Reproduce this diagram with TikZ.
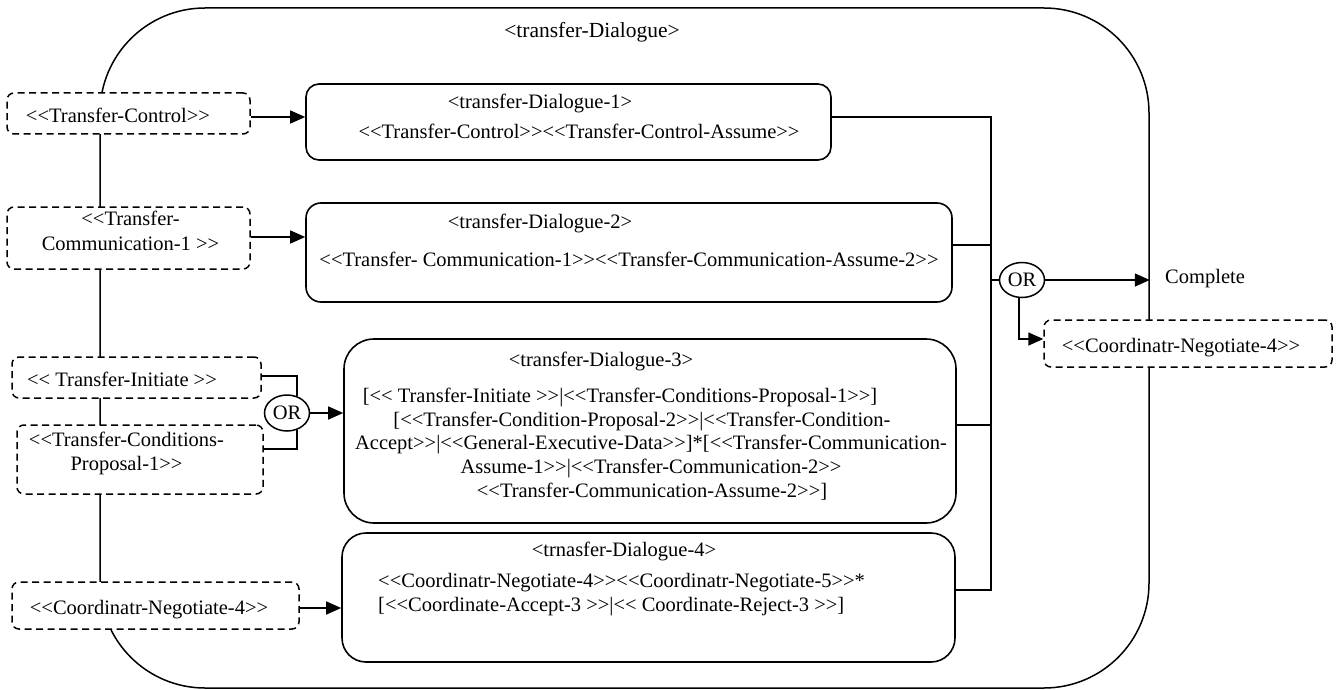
\documentclass[tikz,border=0pt]{standalone}
\usepackage{fontspec}
\setmainfont{Liberation Serif}
\usetikzlibrary{arrows.meta,shapes.geometric}
% doubled angle brackets kept apart so they are not merged into guillemets
\newcommand\LL{<\kern0pt<}
\newcommand\GG{>\kern0pt>}
\begin{document}
\begin{tikzpicture}[x=1pt,y=-1pt,
  every node/.style={font=\fontsize{20.5}{24.5}\selectfont, inner sep=0pt, text height=15pt, text depth=3pt},
  outer/.style={draw, line width=1.5pt, rounded corners=105pt, minimum width=1049pt, minimum height=680pt},
  dlgbox/.style={draw, fill=white, line width=1.6pt},
  optbox/.style={draw, fill=white, line width=1.5pt, dash pattern=on 7pt off 4.5pt, rounded corners=7pt},
  orgate/.style={draw, ellipse, fill=white, line width=1.5pt, minimum width=45pt, minimum height=36pt},
  txt/.style={align=center},
  link/.style={line width=1.6pt},
  arr/.style={link, -{Triangle[length=15pt,width=13pt]}}
]
\useasboundingbox (0,0) rectangle (1343,690);

% enclosing dialogue
\node[outer] (dlg) at (624.5,348) {};
\node[font=\fontsize{21.5}{25}\selectfont] (dlg-t) at (592,32) {<transfer-Dialogue>};

% optional entry points on the left
\node[optbox, minimum width=243pt, minimum height=41pt] (tc) at (128.5,113.5) {};
\node (tc-t) at (118,117) {\LL Transfer-Control\GG};
\node[optbox, minimum width=243pt, minimum height=62pt] (tcm) at (128.5,238) {};
\node[txt] (tcm-t) at (130.5,244) {\LL Transfer-\\Communication-1 \GG};
\node[optbox, minimum width=249pt, minimum height=41pt] (ti) at (136.5,377.5) {};
\node (ti-t) at (122,380) {\LL{} Transfer-Initiate \GG};
\node[optbox, minimum width=246pt, minimum height=69pt] (tcp) at (140,459.5) {};
\node[txt] (tcp-t) at (126.5,464.5) {\LL Transfer-Conditions-\\Proposal-1\GG};
\node[optbox, minimum width=287pt, minimum height=47pt] (cnl) at (155.5,605.5) {};
\node (cnl-t) at (149,608) {\LL Coordinatr-Negotiate-4\GG};
\node[optbox, minimum width=288pt, minimum height=47pt] (cnr) at (1188,343.5) {};
\node (cnr-t) at (1181,346) {\LL Coordinatr-Negotiate-4\GG};

% sub-dialogues
\node[dlgbox, rounded corners=13pt, minimum width=525pt, minimum height=76pt] (d1) at (568.5,122) {};
\node (d1-h) at (540,103) {<transfer-Dialogue-1>};
\node (d1-b) at (579,133) {\LL Transfer-Control\GG\LL Transfer-Control-Assume\GG};

\node[dlgbox, rounded corners=15pt, minimum width=646pt, minimum height=99pt] (d2) at (629,252.5) {};
\node (d2-h) at (540,222) {<transfer-Dialogue-2>};
\node (d2-b) at (629,260) {\LL Transfer- Communication-1\GG\LL Transfer-Communication-Assume-2\GG};

\node[dlgbox, rounded corners=30pt, minimum width=612pt, minimum height=184pt] (d3) at (650,431) {};
\node (d3-h) at (601,360) {<transfer-Dialogue-3>};
\node (d3-l1) at (620,396) {[\LL{} Transfer-Initiate \GG|\LL Transfer-Conditions-Proposal-1\GG]};
\node (d3-l2) at (642,420) {[\LL Transfer-Condition-Proposal-2\GG|\LL Transfer-Condition-};
\node (d3-l3) at (651,443) {Accept\GG|\LL General-Executive-Data\GG]*[\LL Transfer-Communication-};
\node (d3-l4) at (651,467) {Assume-1\GG|\LL Transfer-Communication-2\GG};
\node (d3-l5) at (652,491) {\LL Transfer-Communication-Assume-2\GG]};

\node[dlgbox, rounded corners=24pt, minimum width=613pt, minimum height=129pt] (d4) at (648.5,597.5) {};
\node (d4-h) at (624,550) {<trnasfer-Dialogue-4>};
\node[anchor=west, align=left] (d4-b) at (378,605.5) {\LL Coordinatr-Negotiate-4\GG\LL Coordinatr-Negotiate-5\GG*\\ {}[\LL Coordinate-Accept-3 \GG|\LL{} Coordinate-Reject-3 \GG]};

% alternatives
\node[orgate] (or1) at (287,413) {OR};
\node[orgate, minimum height=35pt] (or2) at (1022,280) {OR};

% entry connectors
\draw[arr] (tc.east |- 0,117) -- (d1.west |- 0,117);
\draw[arr] (tcm.east |- 0,237) -- (d2.west |- 0,237);
\draw[link] (ti.east |- 0,376) -| (or1.60);
\draw[link] (tcp.east |- 0,449) -| (or1.-60);
\draw[arr] (or1.east) -- (d3.west |- or1.east);
\draw[arr] (cnl.east |- 0,608) -- (d4.west |- 0,608);

% exit bus
\coordinate (busT) at (991,117);
\coordinate (busB) at (991,590);
\draw[link] (d1.east |- busT) -- (busT) -- (busB) -- (d4.east |- busB);
\draw[link] (d2.east |- 0,245) -- (busT |- 0,245);
\draw[link] (d3.east |- 0,425) -- (busT |- 0,425);
\draw[link] (busT |- or2.west) -- (or2.west);
\draw[arr] (or2.east) -- (dlg.east |- or2.east);
\node[anchor=west] (done) at (1165,277) {Complete};
\draw[arr] (or2.260) |- (cnr.west |- 0,339);
\end{tikzpicture}
\end{document}
